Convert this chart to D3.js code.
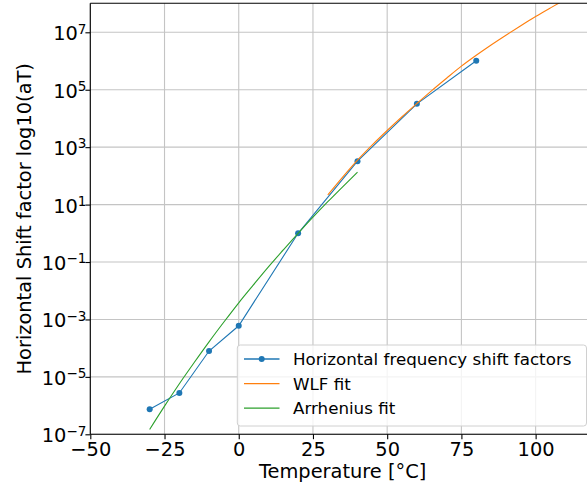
<!DOCTYPE html>
<html>
<head>
<meta charset="utf-8">
<script src="https://cdn.jsdelivr.net/npm/d3@7"></script>
<style>
	body { margin: 0; background: #fff; }
	text { font-family: "DejaVu Sans", sans-serif; fill: #000; }
</style>
</head>
<body>
<div id="graph"></div>
<script>
// measured shift factors, log10(aT)
const shiftTemps = [-30, -20, -10, 0, 20, 40, 60, 80];
const shiftLog = [-6.13, -5.56, -4.10, -3.22, 0.0, 2.51, 4.51, 6.01];

// WLF fit curve
const wlfTemps = [30, 35, 40, 45, 50, 55, 60, 65, 70, 75, 80, 85, 90, 95, 100, 105, 110, 115, 120];
const wlfLog = [1.34, 1.96, 2.55, 3.08, 3.58, 4.06, 4.52, 4.97, 5.40, 5.82, 6.20, 6.56, 6.90, 7.23, 7.55, 7.85, 8.14, 8.43, 8.71];

// Arrhenius fit curve
const arrTemps = [-30, -25, -20, -15, -10, -5, 0, 5, 10, 15, 20, 25, 30, 35, 40];
const arrLog = [-6.83, -6.02, -5.24, -4.50, -3.78, -3.09, -2.42, -1.79, -1.17, -0.58, 0.0, 0.56, 1.10, 1.62, 2.13];

const xTicks = [-50, -25, 0, 25, 50, 75, 100];
const yTickExp = [-7, -5, -3, -1, 1, 3, 5, 7];
const legendLabels = ["Horizontal frequency shift factors", "WLF fit", "Arrhenius fit"];
const colors = ["#1f77b4", "#ff7f0e", "#2ca02c"];

const width = 587, height = 485;
const padding = {left: 90.3, top: 3.3, right: 595, bottom: 434.3};

let graph, xScale, yScale, line;

function setUpChart() {
	graph = d3.select("div#graph")
		.append("svg")
		.attr("width", width)
		.attr("height", height);

	xScale = d3.scaleLinear()
		.range([padding.left, padding.right])
		.domain([-50, 120]);

	yScale = d3.scaleLog()
		.range([padding.bottom, padding.top])
		.domain([1e-7, Math.pow(10, 8.01)]);

	graph.append("clipPath").attr("id", "plotClip")
		.append("rect")
		.attr("x", padding.left)
		.attr("y", padding.top)
		.attr("width", padding.right - padding.left)
		.attr("height", padding.bottom - padding.top);

	// grid
	graph.append("g").selectAll("line.vx")
		.data(xTicks.concat([125]))
		.enter().append("line")
		.attr("x1", d => xScale(d)).attr("x2", d => xScale(d))
		.attr("y1", padding.top).attr("y2", padding.bottom)
		.attr("stroke", "#c4c4c4").attr("stroke-width", 1.1);

	graph.append("g").selectAll("line.hy")
		.data(yTickExp)
		.enter().append("line")
		.attr("x1", padding.left).attr("x2", padding.right)
		.attr("y1", d => yScale(Math.pow(10, d))).attr("y2", d => yScale(Math.pow(10, d)))
		.attr("stroke", "#c4c4c4").attr("stroke-width", 1.1);

	line = d3.line()
		.curve(d3.curveMonotoneX)
		.x(d => xScale(d[0]))
		.y(d => yScale(Math.pow(10, d[1])));
}

function drawChart() {
	const plot = graph.append("g").attr("clip-path", "url(#plotClip)");

	const shiftData = d3.zip(shiftTemps, shiftLog);
	const wlfData = d3.zip(wlfTemps, wlfLog);
	const arrData = d3.zip(arrTemps, arrLog);

	plot.append("path").datum(shiftData)
		.attr("fill", "none")
		.attr("stroke", colors[0])
		.attr("stroke-width", 1.1)
		.attr("d", d3.line().x(d => xScale(d[0])).y(d => yScale(Math.pow(10, d[1]))));

	plot.selectAll("circle.pt")
		.data(shiftData)
		.enter().append("circle")
		.attr("class", "pt")
		.attr("cx", d => xScale(d[0]))
		.attr("cy", d => yScale(Math.pow(10, d[1])))
		.attr("r", 3)
		.attr("fill", colors[0]);

	plot.append("path").datum(wlfData)
		.attr("fill", "none")
		.attr("stroke", colors[1])
		.attr("stroke-width", 1.1)
		.attr("d", line);

	plot.append("path").datum(arrData)
		.attr("fill", "none")
		.attr("stroke", colors[2])
		.attr("stroke-width", 1.1)
		.attr("d", line);

	// axes
	const xAxis = d3.axisBottom(xScale)
		.tickValues(xTicks)
		.tickSize(4.9)
		.tickPadding(3.5)
		.tickFormat(d => d < 0 ? "\u2212" + Math.abs(d) : d);

	const xg = graph.append("g")
		.attr("transform", `translate(0, ${padding.bottom})`)
		.call(xAxis);
	xg.select(".domain").remove();
	xg.selectAll("line").attr("stroke", "#000").attr("stroke-width", 1.1);
	xg.selectAll("text").style("font-size", "19.4px").style("font-family", "DejaVu Sans");

	const yAxis = d3.axisLeft(yScale)
		.tickValues(yTickExp.map(e => Math.pow(10, e)))
		.tickSize(4.9)
		.tickFormat("");

	const yg = graph.append("g")
		.attr("transform", `translate(${padding.left}, 0)`)
		.call(yAxis);
	yg.select(".domain").remove();
	yg.selectAll("line").attr("stroke", "#000").attr("stroke-width", 1.1);

	yg.selectAll(".tick").each(function(d) {
		const e = Math.round(Math.log10(d));
		const t = d3.select(this).select("text")
			.attr("x", -3.8)
			.attr("dy", null)
			.attr("y", 7.5)
			.attr("text-anchor", "end")
			.style("font-size", "19.4px")
			.style("font-family", "DejaVu Sans");
		t.append("tspan").text("10");
		t.append("tspan")
			.attr("dy", -6.7)
			.style("font-size", "13.6px")
			.text(e < 0 ? "\u2212" + Math.abs(e) : e);
	});

	// spines
	graph.append("line")
		.attr("x1", padding.left).attr("x2", padding.left)
		.attr("y1", padding.top).attr("y2", padding.bottom)
		.attr("stroke", "#000").attr("stroke-width", 1.1);
	graph.append("line")
		.attr("x1", padding.left).attr("x2", padding.right)
		.attr("y1", padding.bottom).attr("y2", padding.bottom)
		.attr("stroke", "#000").attr("stroke-width", 1.1);
	graph.append("line")
		.attr("x1", padding.left).attr("x2", padding.right)
		.attr("y1", padding.top).attr("y2", padding.top)
		.attr("stroke", "#000").attr("stroke-width", 1.1);

	// axis labels
	graph.append("text")
		.attr("x", (padding.left + padding.right) / 2)
		.attr("y", 477.5)
		.attr("text-anchor", "middle")
		.style("font-size", "19.4px")
		.text("Temperature [°C]");

	graph.append("text")
		.attr("transform", `translate(31, ${(padding.top + padding.bottom) / 2}) rotate(-90)`)
		.attr("text-anchor", "middle")
		.style("font-size", "19.4px")
		.text("Horizontal Shift factor log10(aT)");

	// legend
	const legend = graph.append("g").attr("class", "legend");
	legend.append("rect")
		.attr("x", 237.3)
		.attr("y", 345)
		.attr("width", 586.5 - 237.3)
		.attr("height", 426 - 345)
		.attr("rx", 3)
		.attr("fill", "#fff")
		.attr("fill-opacity", 0.8)
		.attr("stroke", "#d0d0d0")
		.attr("stroke-width", 1);

	const entries = legend.selectAll("g.entry")
		.data(legendLabels)
		.enter().append("g")
		.attr("class", "entry")
		.attr("transform", (d, i) => `translate(0, ${359 + 24.6 * i})`);

	entries.append("line")
		.attr("x1", 244).attr("x2", 279.5)
		.attr("y1", 0).attr("y2", 0)
		.attr("stroke", (d, i) => colors[i])
		.attr("stroke-width", 1.3);

	entries.filter((d, i) => i === 0).append("circle")
		.attr("cx", 261.7).attr("cy", 0).attr("r", 3)
		.attr("fill", colors[0]);

	entries.append("text")
		.attr("x", 293)
		.attr("y", 6)
		.style("font-size", "16.7px")
		.text(d => d);
}

setUpChart();
drawChart();
</script>
</body>
</html>
